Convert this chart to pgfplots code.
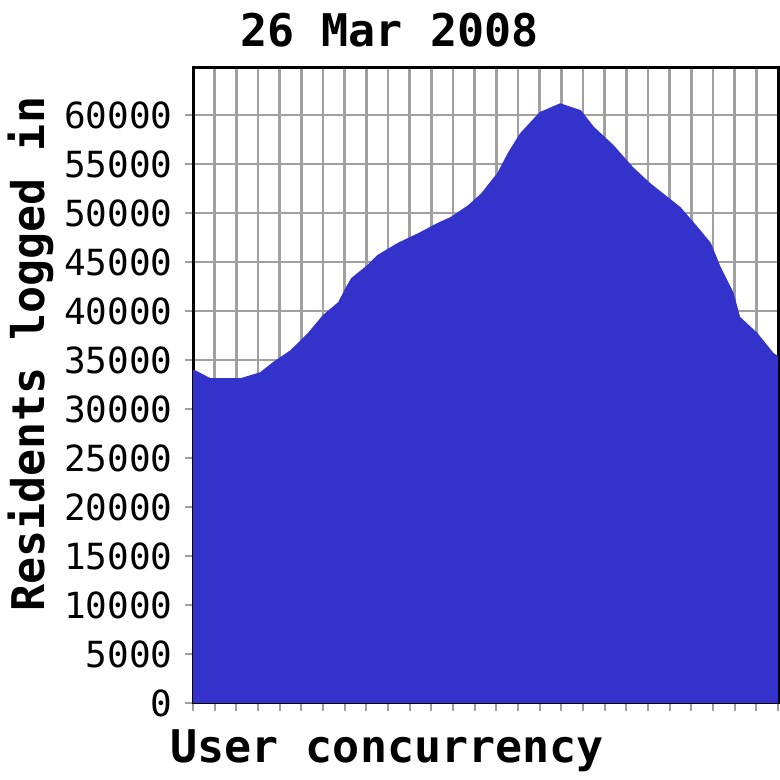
\documentclass[border=0pt]{standalone}
\usepackage{pgfplots}
\pgfplotsset{compat=1.18}
\usepackage{fontspec}
\setmainfont{DejaVu Sans Mono}
\definecolor{areablue}{HTML}{3333CC}
\definecolor{gridgray}{HTML}{A0A0A0}
% grid under the area, frame above it
\pgfplotsset{layers/gridunder/.define layer set={axis background,axis grid,main,axis ticks,axis lines,axis tick labels,axis descriptions,axis foreground}{}}

\begin{document}
\begin{tikzpicture}[x=1pt,y=1pt]
\begin{axis}[
	set layers=gridunder,
	at={(0,0)}, anchor=south west,
	width=292.5pt, height=317.5pt, scale only axis,
	xmin=0, xmax=27, ymin=0, ymax=64800,
	xtick={0,1,...,27}, xticklabels={},
	ytick={0,5000,...,60000},
	xtick pos=bottom, ytick pos=left,
	grid=major, grid style={gridgray, line width=1.3pt},
	tick style={gridgray, line width=1pt},
	tick align=outside, major tick length=4pt,
	axis line style={black, line width=1.5pt},
	scaled y ticks=false,
	/pgf/number format/1000 sep={},
	/pgf/number format/assume math mode=true,
	yticklabel style={font=\fontsize{18}{18}\selectfont, anchor=east, inner sep=0pt, xshift=-6pt},
	]
	\addplot[fill=areablue, draw=none] coordinates {
		(0,34000)(0.15,33900)(0.8,33150)(2.2,33150)(3.1,33750)(3.7,34800)
		(4.5,36000)(5.3,37750)(6.0,39600)(6.7,40900)(7.05,42400)(7.3,43350)
		(8.05,44700)(8.5,45700)(9.45,46950)(10.4,47950)(11.3,49000)(11.9,49600)
		(12.7,50800)(13.3,52000)(14.05,54100)(14.55,56200)(15.1,58150)(16.0,60300)
		(16.95,61200)(17.9,60500)(18.5,58800)(19.4,56950)(20.3,54700)(21.1,53050)
		(22.5,50600)(23.3,48550)(23.9,46950)(24.35,44500)(24.95,41850)(25.25,39400)
		(26.05,37750)(26.8,35700)(27,35400)
	} \closedcycle;
\end{axis}
\node[font=\bfseries\fontsize{22.5}{22.5}\selectfont, anchor=base west, inner sep=0pt] at (23.5,328) {26 Mar 2008};
\node[font=\bfseries\fontsize{22.5}{22.5}\selectfont, anchor=base west, inner sep=0pt] at (-11.5,-29.5) {User concurrency};
\node[font=\bfseries\fontsize{22.5}{22.5}\selectfont, anchor=base west, inner sep=0pt, rotate=90] at (-74,45.5) {Residents logged in};
\pgfresetboundingbox
\path (-96.5,-38.5) rectangle (293.5,351.5);
\end{tikzpicture}
\end{document}
